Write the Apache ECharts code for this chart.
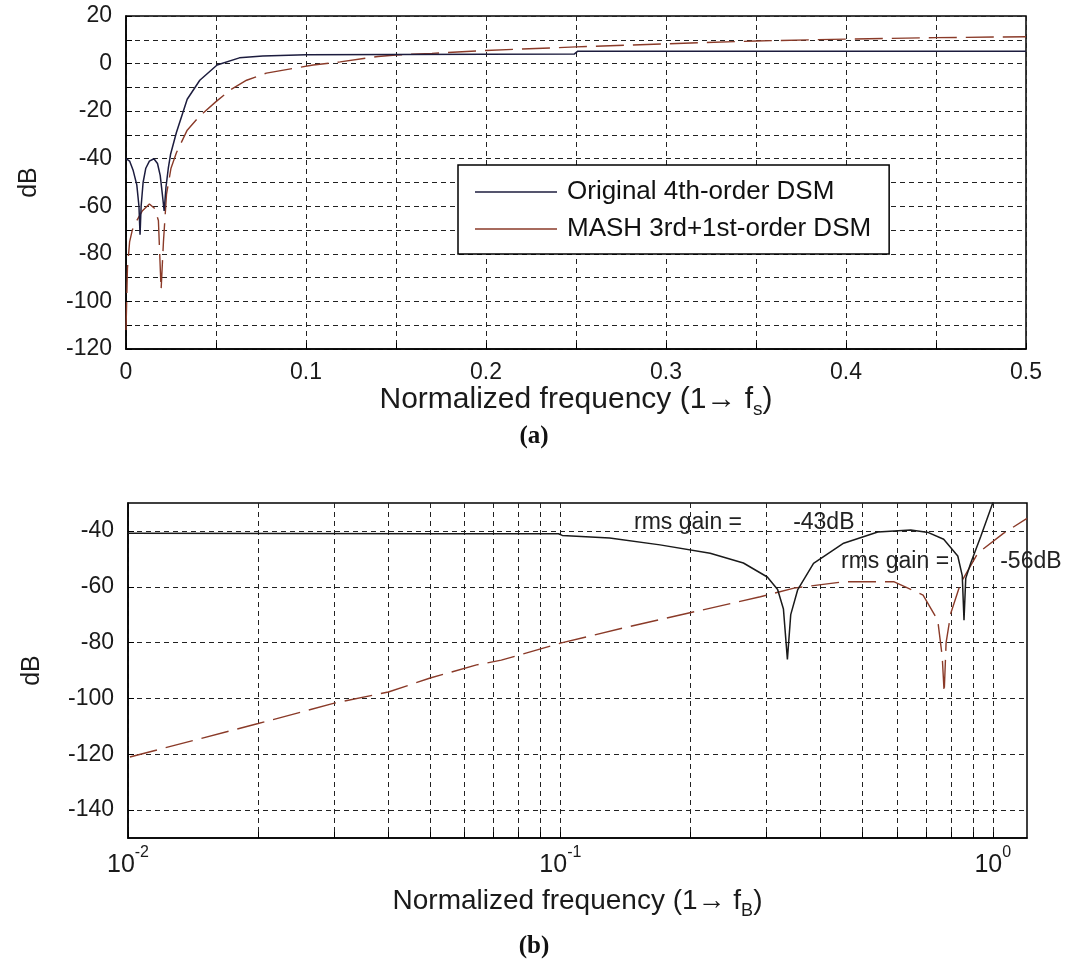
<!DOCTYPE html>
<html>
<head>
<meta charset="utf-8">
<script src="https://cdn.jsdelivr.net/npm/echarts@6/dist/echarts.min.js"></script>
<style>
html,body{margin:0;padding:0;background:#fff;}
#c{width:1068px;height:975px;}
</style>
</head>
<body>
<div id="c"></div>
<script>
// ---------- data: chart (a), linear frequency 0..0.5 ----------
const seriesNames = ['Original 4th-order DSM', 'MASH 3rd+1st-order DSM'];

const origA_f  = [0, 0.002, 0.004, 0.006, 0.0072, 0.0078, 0.0084, 0.0095, 0.011, 0.013, 0.0155, 0.0175, 0.019, 0.0202, 0.0212, 0.0222, 0.0235, 0.0248, 0.028, 0.034, 0.041, 0.0506, 0.063, 0.076, 0.1, 0.15, 0.2, 0.249, 0.251, 0.3, 0.4, 0.5];
const origA_db = [-40, -41, -45, -51, -60, -72, -60, -50, -44, -41, -40, -42, -47, -55, -62, -52, -44, -38, -29, -15, -7, -0.6, 2.4, 3.2, 3.7, 3.8, 3.9, 4.0, 5.2, 5.2, 5.2, 5.2];

const mashA_f  = [0, 0.0008, 0.002, 0.0035, 0.006, 0.009, 0.013, 0.016, 0.018, 0.0195, 0.0208, 0.0225, 0.025, 0.028, 0.034, 0.041, 0.05, 0.058, 0.067, 0.078, 0.093, 0.104, 0.119, 0.14, 0.15, 0.17, 0.2, 0.25, 0.3, 0.35, 0.4, 0.45, 0.5];
const mashA_db = [-112, -86, -75, -70, -66, -62, -59, -61, -66, -95, -75, -55, -44, -37.5, -28, -22, -16, -11, -7, -4, -2, -0.6, 0.7, 3.0, 3.6, 4.3, 5.5, 7.0, 8.3, 9.5, 10.3, 10.9, 11.3];

const xTicksA = [0, 0.1, 0.2, 0.3, 0.4, 0.5];
const yTicksA = [-120, -100, -80, -60, -40, -20, 0, 20];

// ---------- data: chart (b), log frequency 0.01..1.2 ----------
const origB_f  = [0.01, 0.05, 0.099, 0.101, 0.13, 0.17, 0.222, 0.265, 0.301, 0.318, 0.328, 0.335, 0.341, 0.354, 0.385, 0.452, 0.542, 0.646, 0.71, 0.77, 0.83, 0.85, 0.858, 0.866, 0.889, 0.938, 1.0, 1.05];
const origB_db = [-40.8, -41, -41, -41.6, -42.5, -45, -48, -51.5, -56.5, -61, -68, -86, -70, -61, -51.6, -44.4, -40.4, -39.7, -40.6, -43, -49, -56, -72, -57, -51.6, -42, -30, -22];

const mashB_f  = [0.0101, 0.02, 0.03, 0.04, 0.05, 0.064, 0.073, 0.1, 0.143, 0.197, 0.29, 0.347, 0.452, 0.59, 0.69, 0.746, 0.764, 0.772, 0.78, 0.8, 0.843, 0.923, 1.06, 1.2];
const mashB_db = [-121, -109, -101.7, -97.7, -92.7, -88, -86.3, -80.2, -74.4, -69.5, -63.6, -60.5, -58.2, -58.2, -63, -72, -85, -98, -80, -69.4, -58.7, -48, -40.8, -35.5];

const xDecadesB = [0.01, 0.1, 1];
const xMinorB = [0.02,0.03,0.04,0.05,0.06,0.07,0.08,0.09,0.2,0.3,0.4,0.5,0.6,0.7,0.8,0.9];
const yTicksB = [-140, -120, -100, -80, -60, -40];
const xRangeB = [0.01, 1.2];
const yRangeB = [-150, -30];

const annotF    = [0.1476, 0.4446];
const annotDb   = [-37.2, -51.1];
const annotText = ['rms gain =        -43dB', 'rms gain =        -56dB'];

// ---------- build ----------
const L = Math.log10;
const FONT = 'Liberation Sans, Arial, sans-serif';
const C_ORIG_A = '#1c1c3e';
const C_ORIG_B = '#1a1a1a';
const C_MASH = '#8a3a28';
const gridLine = { show: true, lineStyle: { color: '#222', type: [5, 4], width: 1 } };
const axisLine = { show: true, onZero: false, lineStyle: { color: '#000', width: 1.5 } };
const tick = { show: true, inside: true, length: 6, lineStyle: { color: '#000', width: 1 } };
const lbl = { color: '#1a1a1a', fontSize: 23, fontFamily: FONT };

const zip = (a, b) => a.map((v, i) => [v, b[i]]);
const zipLog = (a, b) => a.map((v, i) => [L(v), b[i]]);

const chart = echarts.init(document.getElementById('c'), null, { renderer: 'canvas' });
chart.setOption({
  backgroundColor: '#fff',
  animation: false,
  title: [
    { text: '(a)', left: 'center', top: 419, textStyle: { fontFamily: 'Liberation Serif, Times New Roman, serif', fontWeight: 'bold', fontSize: 25, color: '#111' } },
    { text: '(b)', left: 'center', top: 929, textStyle: { fontFamily: 'Liberation Serif, Times New Roman, serif', fontWeight: 'bold', fontSize: 25, color: '#111' } }
  ],
  grid: [
    { left: 126, right: 42, top: 16, height: 333, show: true, borderColor: '#000', borderWidth: 1.5, backgroundColor: 'transparent' },
    { left: 128, right: 41, top: 503, height: 335, show: true, borderColor: '#000', borderWidth: 1.5, backgroundColor: 'transparent' }
  ],
  legend: {
    data: seriesNames,
    orient: 'vertical',
    left: 458, top: 165,
    padding: [14, 18, 12, 17],
    icon: 'rect',
    itemWidth: 82, itemHeight: 1.6, itemGap: 11,
    backgroundColor: '#fff',
    borderColor: '#000', borderWidth: 1.5,
    textStyle: { fontSize: 26, lineHeight: 25, fontFamily: FONT, color: '#111', padding: [0, 0, 0, 5] },
    selectedMode: false
  },
  xAxis: [
    {
      gridIndex: 0, type: 'value', min: 0, max: 0.5, interval: 0.05,
      axisLine, axisTick: tick, splitLine: gridLine,
      axisLabel: Object.assign({}, lbl, { margin: 12, customValues: xTicksA, formatter: v => String(+v.toFixed(1)) }),
      name: '{a|Normalized frequency (1\u2192 f}{s|s}{a|)}',
      nameLocation: 'middle', nameGap: 36,
      nameTextStyle: { rich: {
        a: { fontSize: 30, fontFamily: FONT, color: '#1a1a1a', verticalAlign: 'top', lineHeight: 30 },
        s: { fontSize: 19, fontFamily: FONT, color: '#1a1a1a', verticalAlign: 'top', lineHeight: 18, padding: [15, 0, 0, 0] }
      } }
    },
    {
      gridIndex: 1, type: 'value', min: L(xRangeB[0]), max: L(xRangeB[1]),
      axisLine,
      axisTick: Object.assign({}, tick, { customValues: xDecadesB.concat(xMinorB).map(L) }),
      splitLine: gridLine,
      axisLabel: {
        margin: 7,
        customValues: xDecadesB.map(L),
        formatter: v => '{b|10}{s|' + Math.round(v) + '}',
        rich: {
          b: { fontSize: 25, fontFamily: FONT, color: '#1a1a1a', lineHeight: 41 },
          s: { fontSize: 16, fontFamily: FONT, color: '#1a1a1a', lineHeight: 15, padding: [0, 0, 26, 0] }
        }
      },
      name: '{a|Normalized frequency (1\u2192 f}{s|B}{a|)}',
      nameLocation: 'middle', nameGap: 30,
      nameTextStyle: { rich: {
        a: { fontSize: 28, fontFamily: FONT, color: '#1a1a1a', verticalAlign: 'top', lineHeight: 30 },
        s: { fontSize: 18, fontFamily: FONT, color: '#1a1a1a', verticalAlign: 'top', lineHeight: 18, padding: [15, 0, 0, 0] }
      } }
    }
  ],
  yAxis: [
    {
      gridIndex: 0, type: 'value', min: -120, max: 20, interval: 10,
      axisLine, axisTick: tick, splitLine: gridLine,
      axisLabel: Object.assign({}, lbl, { margin: 14, customValues: yTicksA }),
      name: 'dB', nameLocation: 'middle', nameGap: 84, nameRotate: 90,
      nameTextStyle: { fontSize: 25, fontFamily: FONT, color: '#1a1a1a' }
    },
    {
      gridIndex: 1, type: 'value', min: yRangeB[0], max: yRangeB[1],
      axisLine,
      axisTick: Object.assign({}, tick, { customValues: yTicksB }),
      splitLine: gridLine,
      axisLabel: Object.assign({}, lbl, { margin: 14, customValues: yTicksB }),
      name: 'dB', nameLocation: 'middle', nameGap: 83, nameRotate: 90,
      nameTextStyle: { fontSize: 25, fontFamily: FONT, color: '#1a1a1a' }
    }
  ],
  series: [
    { name: seriesNames[0], type: 'line', xAxisIndex: 0, yAxisIndex: 0, symbol: 'none', z: 3,
      data: zip(origA_f, origA_db), lineStyle: { color: C_ORIG_A, width: 1.5 }, itemStyle: { color: C_ORIG_A } },
    { name: seriesNames[1], type: 'line', xAxisIndex: 0, yAxisIndex: 0, symbol: 'none', z: 2,
      data: zip(mashA_f, mashA_db), lineStyle: { color: C_MASH, width: 1.4, type: [28, 9] }, itemStyle: { color: C_MASH } },
    { name: 'origB', type: 'line', xAxisIndex: 1, yAxisIndex: 1, symbol: 'none', z: 3,
      data: zipLog(origB_f, origB_db), lineStyle: { color: C_ORIG_B, width: 1.5 },
      markPoint: {
        symbol: 'rect', symbolSize: 1, itemStyle: { color: 'rgba(0,0,0,0)' },
        label: { show: true, position: 'right', distance: 0, fontSize: 23, fontFamily: FONT, color: '#222' },
        data: annotF.map((f, i) => ({ coord: [L(f), annotDb[i]], label: { formatter: annotText[i] } }))
      } },
    { name: 'mashB', type: 'line', xAxisIndex: 1, yAxisIndex: 1, symbol: 'none', z: 2,
      data: zipLog(mashB_f, mashB_db), lineStyle: { color: C_MASH, width: 1.4, type: [28, 9] } }
  ]
});
</script>
</body>
</html>
